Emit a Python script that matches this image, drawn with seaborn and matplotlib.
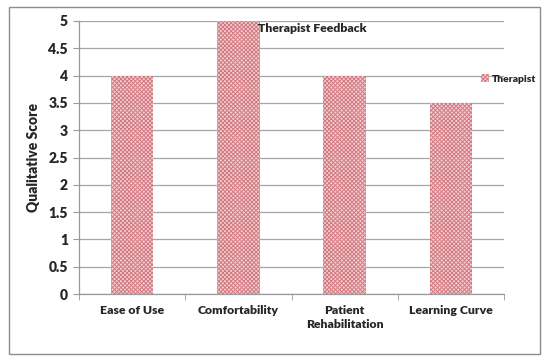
import matplotlib
matplotlib.use('Agg')
import matplotlib.pyplot as plt
import matplotlib.patches as mpatches
import pandas as pd
import seaborn as sns

# Chart data
categories = ['Ease of Use', 'Comfortability', 'Patient\nRehabilitation', 'Learning Curve']
therapist_scores = [4.0, 5.0, 4.0, 3.5]
y_ticks = [0, 0.5, 1, 1.5, 2, 2.5, 3, 3.5, 4, 4.5, 5]

sns.set_style('white')
plt.rcParams['font.family'] = ['Lato', 'DejaVu Sans']
plt.rcParams['hatch.linewidth'] = 0.7

FILL = '#f4cfd2'
HATCH = '#d27a82'

df = pd.DataFrame({'Criterion': categories, 'Score': therapist_scores})

fig = plt.figure(figsize=(5.5, 3.64), dpi=100)
ax = fig.add_axes([79 / 550, 70 / 364, 425 / 550, 273 / 364])

sns.barplot(data=df, x='Criterion', y='Score', ax=ax, width=0.4,
            color=FILL, edgecolor=HATCH, linewidth=0, saturation=1)
for bar in ax.patches:
    bar.set_hatch('xxxxxxxx')

ax.set_ylim(0, 5)
ax.set_xlim(-0.5, len(categories) - 0.5)
ax.set_yticks(y_ticks)
ax.set_yticklabels([f'{t:g}' for t in y_ticks], fontsize=10, fontweight='heavy')
ax.set_xticks(range(len(categories)))
ax.set_xticklabels(categories, fontsize=8.8, fontweight='heavy', linespacing=1.3)
ax.tick_params(axis='x', length=0, pad=8)
ax.tick_params(axis='y', length=4, color='#999999', pad=4, left=True)
# category boundary ticks on the x axis
ax.set_xticks([i - 0.5 for i in range(len(categories) + 1)], minor=True)
ax.tick_params(axis='x', which='minor', length=4, color='#999999', bottom=True)

ax.yaxis.grid(True, color='#a6a6a6', linewidth=0.9)
ax.set_axisbelow(True)
for side in ['top', 'right']:
    ax.spines[side].set_visible(False)
for side in ['left', 'bottom']:
    ax.spines[side].set_color('#999999')
    ax.spines[side].set_linewidth(0.9)

ax.set_xlabel('')
ax.set_ylabel('Qualitative Score', fontsize=10, fontweight='heavy', labelpad=6)

fig.text(258 / 550, 1 - 28 / 364, 'Therapist Feedback', ha='left', va='center',
         fontsize=8.8, fontweight='heavy')

handle = mpatches.Patch(facecolor=FILL, edgecolor=HATCH, hatch='xxxxxxxx',
                        linewidth=0, label='Therapist')
fig.legend(handles=[handle], loc='center left', bbox_to_anchor=(472 / 550, 1 - 79 / 364),
           frameon=False, handlelength=0.7, handleheight=0.7,
           handletextpad=0.3, prop={'weight': 'heavy', 'size': 7.5})

# outer chart border
fig.patches.append(mpatches.Rectangle((9 / 550, 10 / 364), 531 / 550, 347 / 364,
                                      transform=fig.transFigure, fill=False,
                                      edgecolor='#8c8c8c', linewidth=1))

fig.savefig('out.png', dpi=100)
